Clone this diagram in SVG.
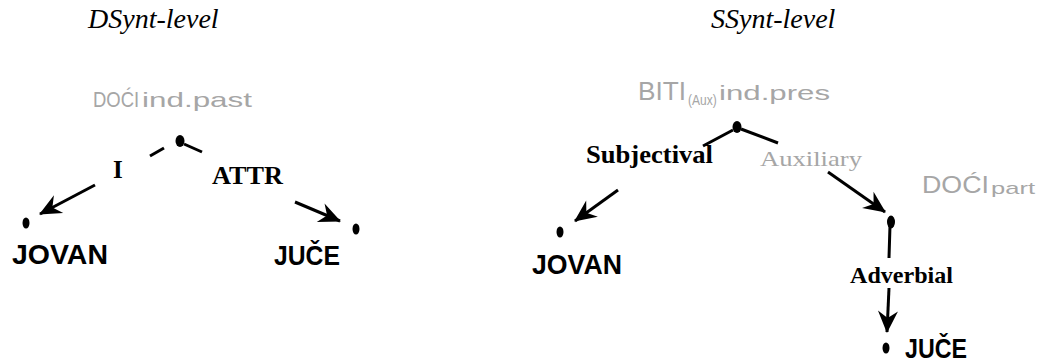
<svg xmlns="http://www.w3.org/2000/svg" width="1040" height="364" viewBox="0 0 1040 364">
<style>
.head{font-family:"Liberation Serif",serif;font-style:italic;font-size:28px;fill:#000}
.lab{font-family:"Liberation Serif",serif;font-weight:bold;fill:#000}
.word{font-family:"Liberation Sans",sans-serif;font-weight:bold;font-size:27px;fill:#000}
.gray{font-family:"Liberation Sans",sans-serif;fill:#a6a6a6}
.grays{font-family:"Liberation Serif",serif;fill:#a6a6a6}
.edge{stroke:#000;stroke-width:3;fill:none}
.dot{fill:#000}
</style>
<defs>
<marker id="ah" markerUnits="userSpaceOnUse" markerWidth="28" markerHeight="28" refX="0" refY="0" viewBox="-24 -14 28 28" orient="auto" overflow="visible">
<path d="M1,0 L-21,-10 L-14,0 L-21,10 Z" fill="#000"/>
</marker>
</defs>
<text class="head" x="88" y="28">DSynt-level</text>
<text class="head" x="711" y="28">SSynt-level</text>

<g id="dsynt-doci">
<text class="gray" transform="translate(93,107) scale(1,1.2)" font-size="18.5">DOĆI</text>
<text class="gray" x="142" y="107" font-size="21" textLength="110" lengthAdjust="spacingAndGlyphs">ind.past</text>
<ellipse class="dot" cx="180" cy="141" rx="4.5" ry="6"/>
</g>
<g id="dsynt-jovan">
<ellipse class="dot" cx="26" cy="223" rx="3.5" ry="5.5"/>
<text class="word" x="12" y="264" textLength="96" lengthAdjust="spacingAndGlyphs">JOVAN</text>
</g>
<g id="dsynt-juce">
<ellipse class="dot" cx="356" cy="229" rx="3.5" ry="5.5"/>
<text class="word" x="274" y="265" textLength="66" lengthAdjust="spacingAndGlyphs">JUČE</text>
</g>

<g id="ssynt-biti">
<text class="gray" x="638" y="100" font-size="25" textLength="48" lengthAdjust="spacingAndGlyphs">BITI</text>
<text class="gray" transform="translate(688,105) scale(1,1.2)" font-size="12">(Aux)</text>
<text class="gray" x="719" y="100" font-size="21" textLength="111" lengthAdjust="spacingAndGlyphs">ind.pres</text>
<ellipse class="dot" cx="737" cy="127" rx="4.5" ry="6"/>
</g>
<g id="ssynt-jovan">
<ellipse class="dot" cx="560" cy="232" rx="3.5" ry="5.5"/>
<text class="word" x="532" y="274" textLength="90" lengthAdjust="spacingAndGlyphs">JOVAN</text>
</g>
<g id="ssynt-doci">
<text class="gray" x="922" y="193" font-size="24" textLength="67" lengthAdjust="spacingAndGlyphs">DOĆI</text>
<text class="gray" x="991" y="194" font-size="17" textLength="44" lengthAdjust="spacingAndGlyphs">part</text>
<ellipse class="dot" cx="891" cy="222" rx="4" ry="6.5"/>
</g>
<g id="ssynt-juce">
<ellipse class="dot" cx="886" cy="348" rx="3.5" ry="5.5"/>
<text class="word" x="905" y="358" textLength="62" lengthAdjust="spacingAndGlyphs">JUČE</text>
</g>

<g id="connectors">
<line class="edge" x1="184" y1="144" x2="202" y2="152"/>
<line class="edge" x1="150" y1="156" x2="164" y2="148"/>
<line class="edge" x1="95" y1="185" x2="40" y2="214" marker-end="url(#ah)"/>
<text class="lab" x="113" y="178" font-size="25">I</text>
<line class="edge" x1="295" y1="202" x2="340" y2="221" marker-end="url(#ah)"/>
<text class="lab" x="212" y="184" font-size="25" textLength="71" lengthAdjust="spacingAndGlyphs">ATTR</text>

<line class="edge" x1="733" y1="130" x2="703" y2="146"/>
<line class="edge" x1="741" y1="129" x2="778" y2="143"/>
<text class="lab" x="586" y="163" font-size="26" textLength="127" lengthAdjust="spacingAndGlyphs">Subjectival</text>
<line class="edge" x1="618" y1="190" x2="575" y2="221" marker-end="url(#ah)"/>
<text class="grays" x="760" y="166" font-size="21" textLength="102" lengthAdjust="spacingAndGlyphs">Auxiliary</text>
<line class="edge" x1="828" y1="172" x2="885" y2="212" marker-end="url(#ah)"/>
<line class="edge" x1="890" y1="226" x2="889" y2="258"/>
<text class="lab" x="850" y="283" font-size="24" textLength="103" lengthAdjust="spacingAndGlyphs">Adverbial</text>
<line class="edge" x1="889" y1="288" x2="887" y2="332" marker-end="url(#ah)"/>
</g>
</svg>
